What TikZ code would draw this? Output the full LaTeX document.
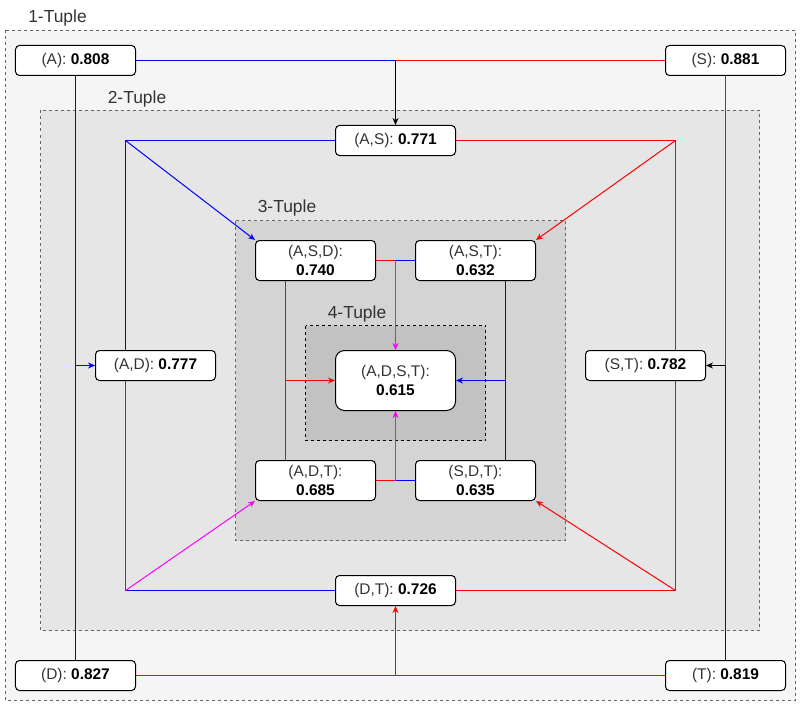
\documentclass[tikz,border=0pt]{standalone}
\usepackage{fontspec}
\setmainfont{Liberation Sans}
\usetikzlibrary{calc,arrows.meta}

\definecolor{oneTuple}{HTML}{F5F5F5}
\definecolor{twoTuple}{HTML}{E6E6E6}
\definecolor{threeTuple}{HTML}{D4D4D4}
\definecolor{fourTuple}{HTML}{C2C2C2}
\definecolor{frameGray}{HTML}{666666}
\definecolor{txtGray}{HTML}{333333}
\definecolor{linkBlue}{HTML}{0000FF}
\definecolor{linkRed}{HTML}{FF0000}
\definecolor{linkMag}{HTML}{FF00FF}

\newcommand{\tupval}[1]{\textcolor{black}{\textbf{#1}}}

\tikzset{
	score/.style={draw, fill=white, rounded corners=4bp, minimum width=120bp, minimum height=30bp, inner sep=0pt, text=txtGray, font=\fontsize{15.5}{19}\selectfont, line width=1bp},
	scoretwo/.style={score, minimum height=40bp, align=center},
	tupleframe/.style={draw=frameGray, dash pattern=on 3bp off 3bp, line width=1bp},
	tuplelabel/.style={text=txtGray, font=\fontsize{17.5}{20}\selectfont},
	link/.style={line width=1bp},
}

\begin{document}
\begin{tikzpicture}[x=1bp, y=-1bp, >={Stealth[length=7bp,width=6bp]}]
	\useasboundingbox (0,0) rectangle (801,706);
	\draw[tupleframe, fill=oneTuple] (5.5,30.5) rectangle (795.5,700.5);
	\node[tuplelabel] (lab1) at (57.5,18) {1-Tuple};
	\draw[tupleframe, fill=twoTuple] (40.5,110.5) rectangle (759.5,630.5);
	\node[tuplelabel] (lab2) at (137,99) {2-Tuple};
	\draw[tupleframe, fill=threeTuple] (235.5,220.5) rectangle (565.5,540.5);
	\node[tuplelabel] (lab3) at (287,208) {3-Tuple};
	\draw[tupleframe, draw=black, fill=fourTuple] (305.5,325.5) rectangle (485.5,440.5);
	\node[tuplelabel] (lab4) at (357,314) {4-Tuple};

	\node[score] (A) at (75.5,60.5) {(A): \tupval{0.808}};
	\node[score] (S) at (725.5,60.5) {(S): \tupval{0.881}};
	\node[score] (D) at (75.5,675.5) {(D): \tupval{0.827}};
	\node[score] (T) at (725.5,675.5) {(T): \tupval{0.819}};
	\node[score] (AS) at (395.5,140.5) {(A,S): \tupval{0.771}};
	\node[score] (DT) at (395.5,590.5) {(D,T): \tupval{0.726}};
	\node[score] (AD) at (155.5,365.5) {(A,D): \tupval{0.777}};
	\node[score] (ST) at (645.5,365.5) {(S,T): \tupval{0.782}};
	\node[scoretwo] (ASD) at (315.5,260.5) {(A,S,D):\\\tupval{0.740}};
	\node[scoretwo] (AST) at (475.5,260.5) {(A,S,T):\\\tupval{0.632}};
	\node[scoretwo] (ADT) at (315.5,480.5) {(A,D,T):\\\tupval{0.685}};
	\node[scoretwo] (SDT) at (475.5,480.5) {(S,D,T):\\\tupval{0.635}};
	\node[scoretwo, minimum height=60bp, rounded corners=9bp] (ADST) at (395.5,380.5) {(A,D,S,T):\\\tupval{0.615}};

	% 1-Tuple
	\coordinate (jA) at (AS.north |- A.east);
	\draw[link, linkBlue] (A.east) -- (jA);
	\draw[link, linkRed] (S.west) -- (jA);
	\draw[link, ->] (jA) -- (AS.north);
	\coordinate (jD) at (DT.south |- D.east);
	\draw[link, linkRed] (D.east) -- (jD) -- (T.west);
	\draw[link, linkRed, ->] (jD) -- (DT.south);
	\coordinate (jL) at (A.south |- AD.west);
	\draw[link, linkBlue] (A.south) -- (D.north);
	\draw[link, linkBlue, ->] (jL) -- (AD.west);
	\coordinate (jR) at (S.south |- ST.east);
	\draw[link, linkRed] (S.south) -- (jR);
	\draw[link, linkBlue] (jR) -- (T.north);
	\draw[link, ->] (jR) -- (ST.east);

	% 2-Tuple
	\coordinate (adTop) at ($(AD.north)+(-30,0)$);
	\coordinate (adBot) at ($(AD.south)+(-30,0)$);
	\coordinate (stTop) at ($(ST.north)+(30,0)$);
	\coordinate (stBot) at ($(ST.south)+(30,0)$);
	\coordinate (cTL) at (adTop |- AS.west);
	\coordinate (cBL) at (adBot |- DT.west);
	\coordinate (cTR) at (stTop |- AS.east);
	\coordinate (cBR) at (stBot |- DT.east);
	\draw[link, linkBlue] (AS.west) -- (cTL) -- (adTop);
	\draw[link, linkRed] (adBot) -- (cBL);
	\draw[link, linkBlue] (cBL) -- (DT.west);
	\draw[link, linkRed] (AS.east) -- (cTR) -- (stTop);
	\draw[link, linkRed] (stBot) -- (cBR) -- (DT.east);
	\draw[link, linkBlue, ->] (cTL) -- (ASD.north west);
	\draw[link, linkRed, ->] (cTR) -- (AST.north east);
	\draw[link, linkMag, ->] (cBL) -- (ADT.south west);
	\draw[link, linkRed, ->] (cBR) -- (SDT.south east);

	% 3-Tuple
	\coordinate (jT3) at (ADST.north |- ASD.east);
	\draw[link, linkRed] (ASD.east) -- (jT3);
	\draw[link, linkBlue] (AST.west) -- (jT3);
	\draw[link, linkMag, ->] (jT3) -- (ADST.north);
	\coordinate (jB3) at (ADST.south |- ADT.east);
	\draw[link, linkRed] (ADT.east) -- (jB3);
	\draw[link, linkBlue] (SDT.west) -- (jB3);
	\draw[link, linkMag, ->] (jB3) -- (ADST.south);
	\coordinate (l3a) at ($(ASD.south)+(-30,0)$);
	\coordinate (l3b) at ($(ADT.north)+(-30,0)$);
	\draw[link, linkRed] (l3a) -- (l3b);
	\draw[link, linkRed, ->] (l3a |- ADST.west) -- (ADST.west);
	\coordinate (r3a) at ($(AST.south)+(30,0)$);
	\coordinate (r3b) at ($(SDT.north)+(30,0)$);
	\draw[link, linkBlue] (r3a) -- (r3b);
	\draw[link, linkBlue, ->] (r3a |- ADST.east) -- (ADST.east);
\end{tikzpicture}
\end{document}
